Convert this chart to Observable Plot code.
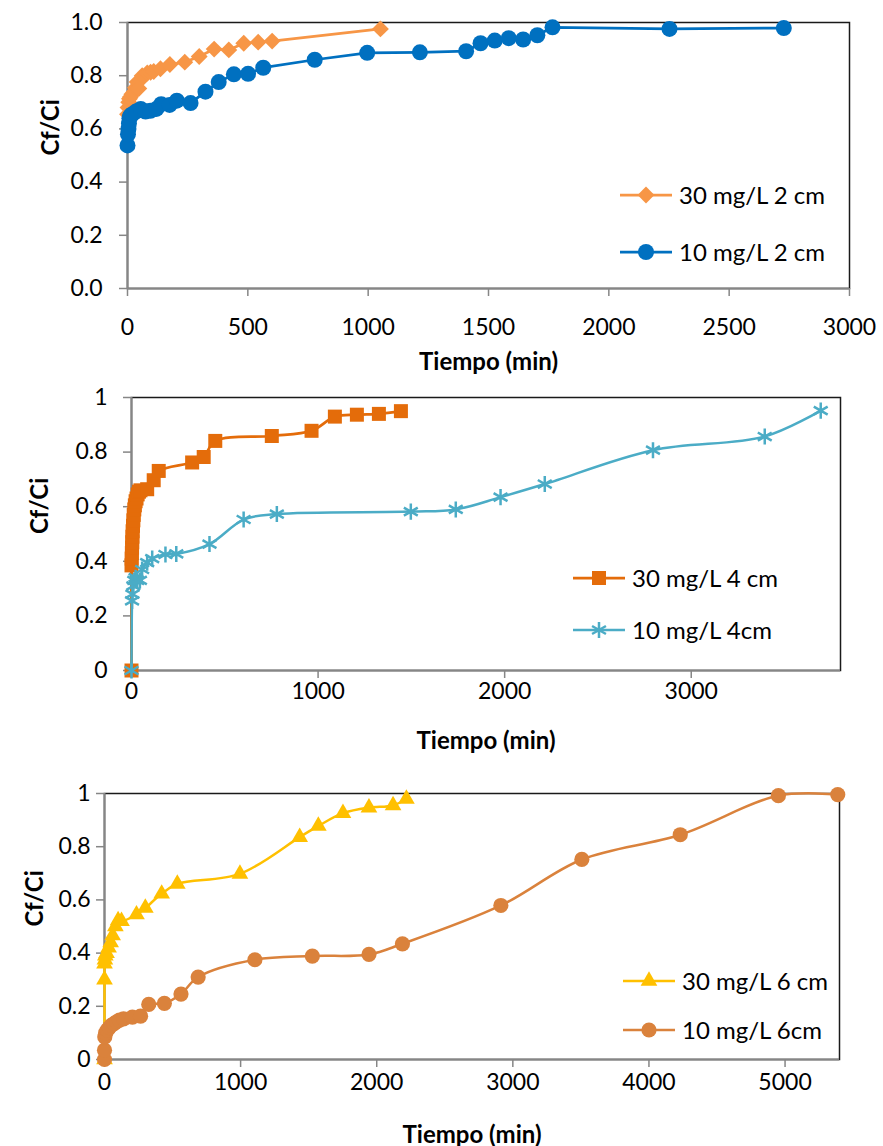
<!DOCTYPE html>
<html><head><meta charset="utf-8">
<script src="https://cdn.jsdelivr.net/npm/d3@7"></script>
<script src="https://cdn.jsdelivr.net/npm/@observablehq/plot@0.6"></script>
<style>
body{margin:0;background:#fff;}
#wrap{position:relative;width:883px;height:1146px;font-family:Lato,sans-serif;overflow:hidden;}
#wrap > svg{position:absolute;left:0;}
.leg{position:absolute;display:flex;align-items:center;height:30px;font-size:24px;color:#000;white-space:nowrap;font-family:Lato,sans-serif;}
.leg svg{display:block;}
.leg span{margin-left:7px;line-height:30px;}
</style></head><body><div id="wrap"></div>
<script>
// ---------- Data (time in min, Cf/Ci) ----------
// Panel 1
const t30_2cm = [0,2,5,8,12,18,26,33,40,47,55,61,82,96,109,137,176,238,298,360,421,483,543,601,1051];
const c30_2cm = [0.655,0.68,0.70,0.713,0.72,0.73,0.738,0.755,0.776,0.752,0.785,0.80,0.81,0.813,0.816,0.826,0.842,0.851,0.872,0.900,0.897,0.922,0.926,0.930,0.976];
const t10_2cm = [0,2,4,6,8,12,20,35,55,75,95,120,140,175,205,262,324,379,442,501,564,778,996,1215,1407,1467,1526,1584,1644,1703,1766,2252,2727];
const c10_2cm = [0.538,0.58,0.60,0.62,0.64,0.65,0.655,0.665,0.675,0.665,0.668,0.675,0.693,0.690,0.706,0.697,0.740,0.776,0.805,0.807,0.830,0.860,0.886,0.888,0.892,0.922,0.932,0.941,0.936,0.952,0.982,0.976,0.979];
// Panel 2
const t30_4cm = [0,0,1,2,3,4,5,6,8,10,12,15,18,22,27,33,40,48,84,119,146,325,387,449,752,965,1090,1208,1326,1444];
const c30_4cm = [0,0.385,0.41,0.43,0.45,0.47,0.49,0.51,0.53,0.55,0.57,0.59,0.605,0.62,0.63,0.645,0.655,0.66,0.664,0.697,0.731,0.762,0.782,0.841,0.859,0.878,0.930,0.937,0.940,0.950];
const t10_4cm = [0,3,5,10,15,22,30,45,57,84,111,182,240,418,601,779,1497,1738,1978,2215,2795,3394,3694];
const c10_4cm = [0,0.255,0.28,0.31,0.33,0.34,0.33,0.33,0.37,0.395,0.41,0.425,0.427,0.463,0.553,0.573,0.582,0.590,0.635,0.683,0.807,0.857,0.952];
// Panel 3
const t30_6cm = [0,0,0,3,6,15,30,45,60,80,100,125,235,300,420,535,995,1434,1571,1752,1943,2120,2218];
const c30_6cm = [0,0.30,0.36,0.375,0.39,0.40,0.42,0.44,0.466,0.50,0.523,0.52,0.545,0.57,0.623,0.660,0.698,0.836,0.878,0.926,0.947,0.955,0.980];
const t10_6cm = [0,0,2,8,20,35,50,70,90,110,140,205,265,325,440,562,688,1105,1527,1943,2189,2912,3507,4230,4951,5387];
const c10_6cm = [0,0.035,0.085,0.10,0.11,0.12,0.128,0.135,0.142,0.148,0.153,0.159,0.163,0.207,0.211,0.246,0.31,0.375,0.389,0.395,0.435,0.579,0.752,0.845,0.992,0.996];

// Labels / ticks
const labels1 = ["30 mg/L 2 cm","10 mg/L 2 cm"];
const labels2 = ["30 mg/L 4 cm","10 mg/L 4cm"];
const labels3 = ["30 mg/L 6 cm","10 mg/L 6cm"];
const xTitle = "Tiempo (min)";
const yTitle = "Cf/Ci";
const yTicks = [0,0.2,0.4,0.6,0.8,1];
const xTicks1 = [0,500,1000,1500,2000,2500,3000];
const xTicks2 = [0,1000,2000,3000];
const xTicks3 = [0,1000,2000,3000,4000,5000];

const zip = (t,c) => t.map((d,i)=>({t:d,c:c[i]}));

const wrap = document.getElementById("wrap");

function panel(cfg){
  const marks = [
    Plot.frame({stroke:"#1a1a1a", strokeWidth:1.5}),
    Plot.ruleX([0],{stroke:"#868686", strokeWidth:2}),
    Plot.ruleY([0],{stroke:"#868686", strokeWidth:2}),
    Plot.axisX({ticks:cfg.xTicks, tickSize:8, tickPadding:cfg.xPad, tickFormat:d3.format("d"), stroke:"#868686", strokeWidth:1.5, label:null}),
    Plot.axisY({ticks:yTicks, tickSize:8, tickPadding:cfg.yPad, tickFormat:cfg.yFmt, stroke:"#868686", strokeWidth:1.5, label:null}),
    Plot.text([xTitle],{frameAnchor:"bottom", dy:cfg.xTitleDy, fontWeight:"bold", fontSize:24}),
    Plot.text([yTitle],{frameAnchor:"left", dx:cfg.yTitleDx, rotate:-90, fontWeight:"bold", fontSize:24})
  ];
  for (const s of cfg.series){
    marks.push(Plot.line(s.data,{x:"t", y:"c", stroke:s.color, strokeWidth:s.lw, curve:cfg.curve}));
    marks.push(Plot.dot(s.data,{x:"t", y:"c", symbol:s.symbol, r:s.r,
      fill: s.hollow ? "none" : s.color, stroke: s.hollow ? s.color : "none", strokeWidth:2.5}));
  }
  const svg = Plot.plot({
    width:883, height:cfg.height,
    marginTop:cfg.m[0], marginRight:cfg.m[1], marginBottom:cfg.m[2], marginLeft:cfg.m[3],
    x:{type:"linear", domain:cfg.xDomain},
    y:{type:"linear", domain:[0,1]},
    style:{fontFamily:"Lato, sans-serif", fontSize:"23px", background:"transparent", overflow:"visible", color:"#000"},
    marks
  });
  svg.style.top = cfg.top + "px";
  wrap.appendChild(svg);
  cfg.series.forEach((s,i)=>{
    const L = cfg.legend;
    const div = document.createElement("div");
    div.className = "leg";
    div.style.left = L.x + "px";
    div.style.top = (L.ys[i] - 15) + "px";
    const ns = "http://www.w3.org/2000/svg";
    const sv = document.createElementNS(ns,"svg");
    sv.setAttribute("width",52); sv.setAttribute("height",30);
    const ln = document.createElementNS(ns,"line");
    ln.setAttribute("x1",0); ln.setAttribute("x2",52); ln.setAttribute("y1",15); ln.setAttribute("y2",15);
    ln.setAttribute("stroke",s.color); ln.setAttribute("stroke-width",s.lw);
    sv.appendChild(ln);
    const p = document.createElementNS(ns,"path");
    p.setAttribute("d", d3.symbol().type(s.d3sym).size(Math.PI*s.r*s.r)());
    p.setAttribute("transform","translate(26,15)");
    if (s.hollow){ p.setAttribute("fill","none"); p.setAttribute("stroke",s.color); p.setAttribute("stroke-width",2.5); }
    else p.setAttribute("fill",s.color);
    sv.appendChild(p);
    div.appendChild(sv);
    const sp = document.createElement("span");
    sp.textContent = s.label;
    div.appendChild(sp);
    wrap.appendChild(div);
  });
}

panel({
  top:0, height:372, m:[22,34,84,127], xDomain:[0,3000], xTicks:xTicks1,
  xPad:22, yPad:17, yFmt:d3.format(".1f"), xTitleDy:81, yTitleDx:-76, curve:"linear",
  legend:{x:620, ys:[195,252]},
  series:[
    {data:zip(t30_2cm,c30_2cm), color:"#F79646", symbol:"diamond2", d3sym:d3.symbolDiamond2, r:7.6, lw:2.75, label:labels1[0]},
    {data:zip(t10_2cm,c10_2cm), color:"#0070C0", symbol:"circle", d3sym:d3.symbolCircle, r:8, lw:2.75, label:labels1[1]}
  ]
});

panel({
  top:372, height:388, m:[25,43,90,131], xDomain:[0,3800], xTicks:xTicks2,
  xPad:4, yPad:16, yFmt:d3.format("~g"), xTitleDy:78, yTitleDx:-91, curve:"catmull-rom",
  legend:{x:573, ys:[578,630]},
  series:[
    {data:zip(t30_4cm,c30_4cm), color:"#E46C0A", symbol:"square", d3sym:d3.symbolSquare, r:7.9, lw:2.75, label:labels2[0]},
    {data:zip(t10_4cm,c10_4cm), color:"#4BACC6", symbol:"asterisk", d3sym:d3.symbolAsterisk, r:7.6, lw:2.5, hollow:true, label:labels2[1]}
  ]
});

panel({
  top:760, height:386, m:[33,44,87,104], xDomain:[0,5400], xTicks:xTicks3,
  xPad:6, yPad:6, yFmt:d3.format("~g"), xTitleDy:83, yTitleDx:-69, curve:"catmull-rom",
  legend:{x:623, ys:[981,1030]},
  series:[
    {data:zip(t30_6cm,c30_6cm), color:"#FFC000", symbol:"triangle", d3sym:d3.symbolTriangle, r:6.2, lw:2.5, label:labels3[0]},
    {data:zip(t10_6cm,c10_6cm), color:"#DA823C", symbol:"circle", d3sym:d3.symbolCircle, r:7.6, lw:2.5, label:labels3[1]}
  ]
});
</script>
</body></html>
